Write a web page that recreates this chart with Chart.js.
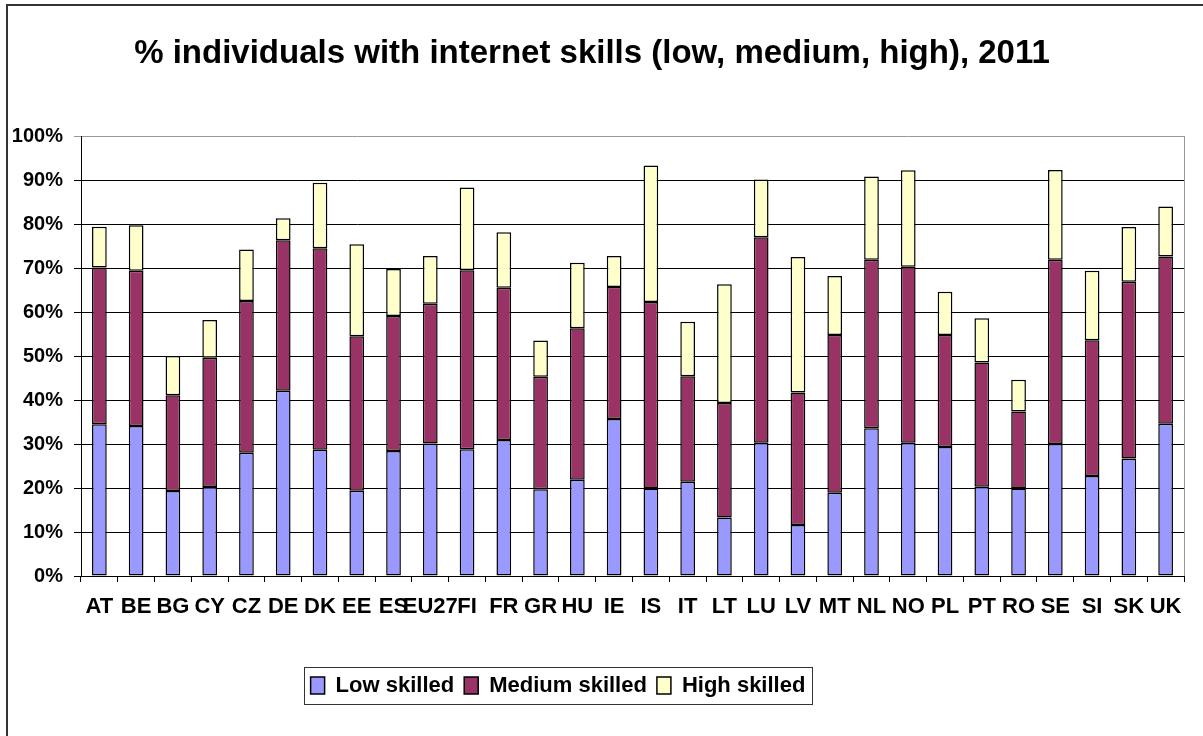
<!DOCTYPE html>
<html>
<head>
<meta charset="utf-8">
<script src="https://cdn.jsdelivr.net/npm/chart.js@4/dist/chart.umd.min.js"></script>
<style>
  html, body { margin: 0; padding: 0; background: #fff; }
  canvas { display: block; }
</style>
</head>
<body>
<canvas id="chart" width="1203" height="736"></canvas>
<script>
const countries = ['AT', 'BE', 'BG', 'CY', 'CZ', 'DE', 'DK', 'EE', 'ES', 'EU27', 'FI', 'FR', 'GR', 'HU', 'IE',
    'IS', 'IT', 'LT', 'LU', 'LV', 'MT', 'NL', 'NO', 'PL', 'PT', 'RO', 'SE', 'SI', 'SK', 'UK'];

// % of individuals
const lowSkilled = [34.5, 34.1, 19.3, 20.2, 28.0, 42.1, 28.7, 19.4, 28.4, 30.1, 28.8, 30.9, 19.7, 21.9, 35.7,
    19.9, 21.4, 13.3, 30.3, 11.6, 18.9, 33.6, 30.3, 29.3, 20.3, 19.9, 30.0, 22.7, 26.7, 34.6];
const mediumSkilled = [35.6, 35.3, 21.8, 29.4, 34.5, 34.2, 45.8, 35.1, 30.7, 31.8, 40.7, 34.6, 25.6, 34.4, 30.0,
    42.4, 24.0, 26.0, 46.7, 30.1, 35.9, 38.3, 40.0, 25.5, 28.2, 17.5, 41.9, 30.9, 40.2, 38.0];
const highSkilled = [9.3, 10.3, 8.9, 8.6, 11.7, 5.0, 14.9, 20.9, 10.7, 10.8, 18.8, 12.6, 8.2, 14.9, 7.0,
    31.0, 12.4, 27.0, 13.1, 30.8, 13.4, 18.9, 21.9, 9.8, 10.1, 7.2, 20.4, 15.8, 12.4, 11.4];

const yTicks = [0, 10, 20, 30, 40, 50, 60, 70, 80, 90, 100];

const FONT = '"Liberation Sans", Arial, sans-serif';

// frame of the figure, plot border, box round the legend
const extras = {
    id: 'extras',
    afterLayout(chart) {
        // legend sits a bit left of the middle in the original
        const lg = chart.legend;
        lg.left -= 34;
        lg.right -= 34;
    },
    afterDraw(chart) {
        const c = chart.ctx;
        const a = chart.chartArea;
        c.save();
        // outer frame (left + top only)
        c.strokeStyle = '#333';
        c.lineWidth = 2;
        c.beginPath();
        c.moveTo(7, 736);
        c.lineTo(7, 5);
        c.lineTo(1203, 5);
        c.stroke();
        // plot area right edge
        c.strokeStyle = '#999';
        c.lineWidth = 1;
        c.beginPath();
        c.moveTo(a.right + 0.5, a.top);
        c.lineTo(a.right + 0.5, a.bottom);
        c.stroke();
        // legend box
        const hb = chart.legend.legendHitBoxes;
        if (hb && hb.length) {
            const x0 = Math.min(...hb.map(h => h.left)) - 7;
            const x1 = Math.max(...hb.map(h => h.left + h.width)) + 6;
            const cy = hb[0].top + hb[0].height / 2;
            c.strokeStyle = '#333';
            c.strokeRect(Math.round(x0) + 0.5, Math.round(cy - 18.5) + 0.5, Math.round(x1 - x0), 37);
        }
        c.restore();
    }
};

new Chart(document.getElementById('chart'), {
    type: 'bar',
    data: {
        labels: countries,
        datasets: [
            { label: 'Low skilled', data: lowSkilled, backgroundColor: '#9999FF' },
            { label: 'Medium skilled', data: mediumSkilled, backgroundColor: '#993366' },
            { label: 'High skilled', data: highSkilled, backgroundColor: '#FFFFCC' }
        ].map(d => Object.assign(d, {
            borderColor: '#000',
            borderWidth: 1.5,
            borderSkipped: false,
            barPercentage: 0.4,
            categoryPercentage: 1.0
        }))
    },
    options: {
        responsive: false,
        animation: false,
        events: [],
        layout: { padding: { left: 0, right: 19, top: 0, bottom: 29.5 } },
        plugins: {
            title: {
                display: true,
                text: '% individuals with internet skills (low, medium, high), 2011',
                color: '#000',
                font: { family: FONT, size: 33, weight: 'bold', lineHeight: 1.2 },
                padding: { top: 34.2, bottom: 62.2 }
            },
            legend: {
                position: 'bottom',
                labels: {
                    color: '#000',
                    font: { family: FONT, size: 22, weight: 'bold' },
                    boxWidth: 14,
                    boxHeight: 17,
                    padding: 10
                }
            },
            tooltip: { enabled: false }
        },
        scales: {
            x: {
                stacked: true,
                grid: { drawOnChartArea: false, drawTicks: true, tickLength: 6, color: '#000' },
                border: { color: '#000' },
                ticks: {
                    color: '#000',
                    autoSkip: false,
                    maxRotation: 0,
                    minRotation: 0,
                    padding: 12,
                    font: { family: FONT, size: 22, weight: 'bold' }
                },
                afterFit(scale) { scale.height = 88.5; }
            },
            y: {
                stacked: true,
                min: 0,
                max: 100,
                afterBuildTicks(scale) { scale.ticks = yTicks.map(v => ({ value: v })); },
                grid: {
                    color: ctx => (ctx.tick && ctx.tick.value === 100) ? '#999' : '#000',
                    tickLength: 7
                },
                border: { color: '#000' },
                ticks: {
                    color: '#000',
                    padding: 11,
                    font: { family: FONT, size: 20, weight: 'bold' },
                    callback: v => v + '%'
                },
                afterFit(scale) { scale.width = 81; }
            }
        }
    },
    plugins: [extras]
});
</script>
</body>
</html>
